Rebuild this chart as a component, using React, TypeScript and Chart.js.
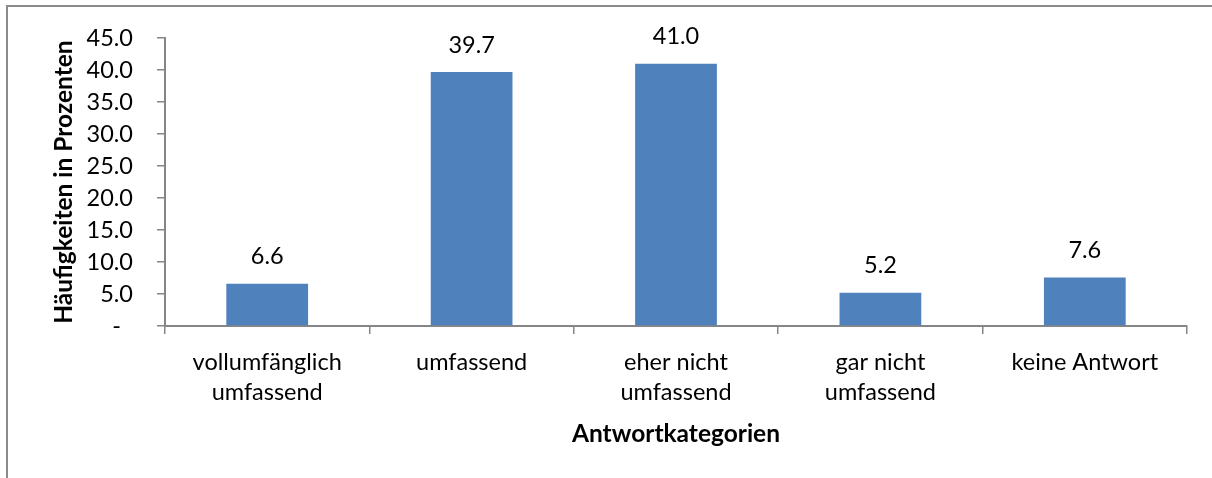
import React, { useEffect, useRef } from "react";
import { Chart, registerables } from "chart.js";

Chart.register(...registerables);

const categories: (string | string[])[] = [
  ["vollumfänglich", "umfassend"],
  "umfassend",
  ["eher nicht", "umfassend"],
  ["gar nicht", "umfassend"],
  "keine Antwort",
];
const values: number[] = [6.6, 39.7, 41.0, 5.2, 7.6];
const yTitle = "Häufigkeiten in Prozenten";
const xTitle = "Antwortkategorien";
const yMin = 0;
const yMax = 45;
const yStep = 5;

const FONT = "Lato";
const FS = 23.5;
const TFS = 24.5;
const AXIS = "#868686";

const labelsPlugin = {
  id: "customLabels",
  afterDatasetsDraw(chart: any) {
    const { ctx, chartArea } = chart;
    const meta = chart.getDatasetMeta(0);
    ctx.save();
    ctx.fillStyle = "#000";
    ctx.font = `${FS}px ${FONT}`;
    ctx.textAlign = "center";
    ctx.textBaseline = "middle";
    meta.data.forEach((bar: any, i: number) => {
      ctx.fillText(values[i].toFixed(1), bar.x, bar.y - 27);
    });
    // axis titles
    ctx.font = `bold ${TFS}px ${FONT}`;
    ctx.fillText(xTitle, (chartArea.left + chartArea.right) / 2, chartArea.bottom + 108);
    ctx.translate(chartArea.left - 101, (chartArea.top + chartArea.bottom) / 2);
    ctx.rotate(-Math.PI / 2);
    ctx.fillText(yTitle, 0, 0);
    ctx.restore();
  },
};

export default function App() {
  const ref = useRef<HTMLCanvasElement | null>(null);
  useEffect(() => {
    if (!ref.current) return;
    Chart.defaults.color = "#000";
    const chart = new Chart(ref.current, {
      type: "bar",
      data: {
        labels: categories,
        datasets: [
          {
            data: values,
            backgroundColor: "#4F81BD",
            borderWidth: 0,
            barPercentage: 0.4,
            categoryPercentage: 1,
          },
        ],
      },
      options: {
        animation: false,
        responsive: false,
        maintainAspectRatio: false,
        layout: { padding: { left: 0, right: 25, top: 34, bottom: 0 } },
        plugins: { legend: { display: false }, tooltip: { enabled: false } },
        scales: {
          x: {
            afterFit: (s: any) => {
              s.height = 152;
            },
            grid: {
              display: true,
              drawOnChartArea: false,
              drawTicks: true,
              tickLength: 8,
              color: AXIS,
              lineWidth: 1.5,
              offset: true,
            },
            border: { display: true, color: AXIS, width: 2 },
            ticks: {
              font: { family: FONT, size: FS, lineHeight: 30 / FS },
              color: "#000",
              padding: 13,
              maxRotation: 0,
              autoSkip: false,
            },
          },
          y: {
            min: yMin,
            max: yMax,
            afterFit: (s: any) => {
              s.width = 165;
            },
            grid: {
              display: true,
              drawOnChartArea: false,
              drawTicks: true,
              tickLength: 8,
              color: AXIS,
              lineWidth: 1.5,
            },
            border: { display: true, color: AXIS, width: 2 },
            ticks: {
              stepSize: yStep,
              font: { family: FONT, size: FS },
              color: "#000",
              padding: 24,
              callback: (v: any) => (Number(v) === 0 ? "-  " : Number(v).toFixed(1)),
            },
          },
        },
      },
      plugins: [labelsPlugin],
    });
    return () => chart.destroy();
  }, []);
  return (
    <div
      style={{
        position: "fixed",
        left: 0,
        top: 0,
        width: 1212,
        height: 478,
        background: "#fff",
        overflow: "hidden",
      }}
    >
      <div
        style={{
          position: "absolute",
          left: 6,
          top: 5,
          width: 1400,
          height: 700,
          borderLeft: "2px solid #8a8a8a",
          borderTop: "2px solid #8a8a8a",
        }}
      />
      <canvas
        ref={ref}
        width={1212}
        height={478}
        style={{ position: "absolute", left: 0, top: 0, width: 1212, height: 478 }}
      />
    </div>
  );
}
